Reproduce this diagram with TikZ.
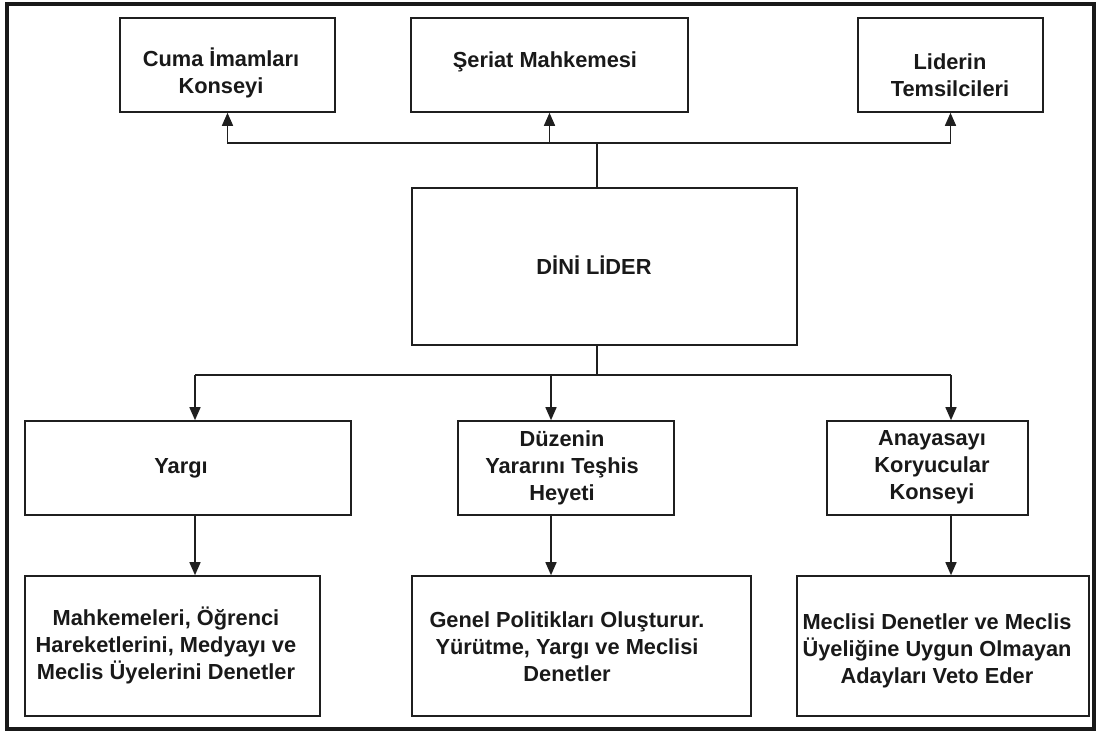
\documentclass[tikz,border=0pt]{standalone}
\usepackage{fontspec}
\setmainfont{Liberation Sans}
\usetikzlibrary{arrows.meta}
\begin{document}
\begin{tikzpicture}[x=1pt,y=-1pt,
 box/.style={draw=black!88, line width=1.6pt, inner sep=0pt},
 txt/.style={align=center, font=\bfseries\fontsize{21.8}{27}\selectfont, inner sep=0pt, text=black!90},
 link/.style={draw=black!88, line width=1.5pt},
 arr/.style={link, -{Triangle[length=13pt,width=11pt]}}]
\useasboundingbox (0,0) rectangle (1100,733);
\draw[line width=3.8pt, black!90] (7,4) rectangle (1094,729);
% boxes
\node[box, minimum width=215pt, minimum height=94pt] (cuma) at (227.5,65) {};
\node[box, minimum width=277pt, minimum height=94pt] (seriat) at (549.5,65) {};
\node[box, minimum width=185pt, minimum height=94pt] (liderin) at (950.5,65) {};
\node[box, minimum width=385pt, minimum height=157pt] (lider) at (604.5,266.5) {};
\node[box, minimum width=326pt, minimum height=94pt] (yargi) at (188,468) {};
\node[box, minimum width=216pt, minimum height=94pt] (duzen) at (566,468) {};
\node[box, minimum width=201pt, minimum height=94pt] (anayasa) at (927.5,468) {};
\node[box, minimum width=295pt, minimum height=140pt] (mahk) at (172.5,646) {};
\node[box, minimum width=339pt, minimum height=140pt] (genel) at (581.5,646) {};
\node[box, minimum width=292pt, minimum height=140pt] (meclis) at (943,646) {};
% texts
\node[txt] (cumaT) at (221,73) {Cuma İmamları\\Konseyi};
\node[txt] (seriatT) at (545,62) {Şeriat Mahkemesi};
\node[txt] (liderinT) at (950,75) {Liderin\\Temsilcileri};
\node[txt] (liderT) at (594,265) {DİNİ LİDER};
\node[txt] (yargiT) at (181,468) {Yargı};
\node[txt] (duzenT) at (562,468) {Düzenin\\Yararını Teşhis\\Heyeti};
\node[txt] (anayasaT) at (932,467) {Anayasayı\\Koryucular\\Konseyi};
\node[txt] (mahkT) at (166,645) {Mahkemeleri, Öğrenci\\Hareketlerini, Medyayı ve\\Meclis Üyelerini Denetler};
\node[txt] (genelT) at (567,647) {Genel Politikları Oluşturur.\\Yürütme, Yargı ve Meclisi\\Denetler};
\node[txt] (meclisT) at (937,651) {Meclisi Denetler ve Meclis\\Üyeliğine Uygun Olmayan\\Adayları Veto Eder};
% top connectors
\coordinate (tj) at (597,143);
\draw[link] (tj |- lider.north) -- (tj);
\draw[arr] (tj) -| (cuma.south);
\draw[arr] (tj) -| (liderin.south);
\draw[arr] (tj -| seriat.south) -- (seriat.south);
% bottom connectors
\coordinate (bj) at (597,375);
\coordinate (ya) at (195,375);
\coordinate (da) at (551,375);
\coordinate (aa) at (951,375);
\draw[link] (bj |- lider.south) -- (bj);
\draw[link] (ya) -- (aa);
\draw[arr] (ya) -- (ya |- yargi.north);
\draw[arr] (da) -- (da |- duzen.north);
\draw[arr] (aa) -- (aa |- anayasa.north);
\draw[arr] (ya |- yargi.south) -- (ya |- mahk.north);
\draw[arr] (da |- duzen.south) -- (da |- genel.north);
\draw[arr] (aa |- anayasa.south) -- (aa |- meclis.north);
\end{tikzpicture}
\end{document}
